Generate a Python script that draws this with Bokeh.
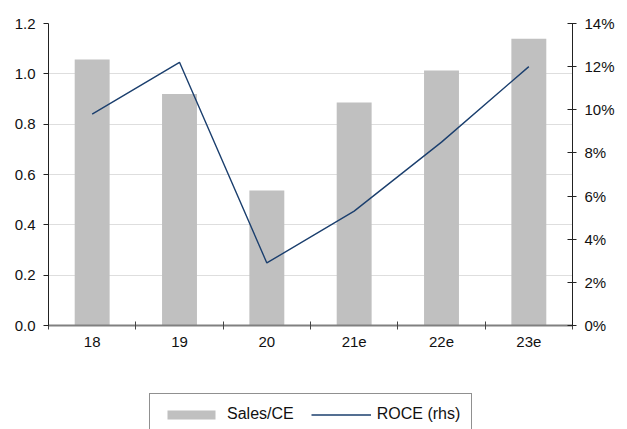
from bokeh.plotting import figure
from bokeh.layouts import column
from bokeh.models import (Range1d, LinearAxis, FixedTicker, PrintfTickFormatter,
                          Legend, LegendItem, ColumnDataSource)
from bokeh.embed import file_html
from bokeh.resources import INLINE

categories = ["18", "19", "20", "21e", "22e", "23e"]
sales_ce = [1.057, 0.92, 0.536, 0.886, 1.013, 1.139]
roce_pct = [9.8, 12.2, 2.9, 5.3, 8.5, 12.0]
left_ticks = [0.0, 0.2, 0.4, 0.6, 0.8, 1.0, 1.2]
right_ticks = [0, 2, 4, 6, 8, 10, 12, 14]
series_names = ["Sales/CE", "ROCE (rhs)"]

FONT = "Liberation Sans"
TXT = "#111111"
BAR = "#c0c0c0"
LINE = "#1b3f6e"

xpos = [i + 0.5 for i in range(len(categories))]
src = ColumnDataSource(dict(x=xpos, sales=sales_ce, roce=roce_pct, cat=categories))

BL, BR = 48, 55

p = figure(width=627, height=392, output_backend="svg", toolbar_location=None,
           x_range=Range1d(0, len(categories)), y_range=Range1d(0, 1.2),
           min_border_left=BL, min_border_right=BR, min_border_top=23,
           min_border_bottom=67, outline_line_color=None)
p.extra_y_ranges = {"roce": Range1d(0, 14)}

bars = p.vbar(x="x", top="sales", width=0.4, source=src, fill_color=BAR,
              line_color=None)
line = p.line(x="x", y="roce", source=src, y_range_name="roce",
              line_color=LINE, line_width=1.4)

# x axis
xa = p.xaxis[0]
xa.ticker = FixedTicker(ticks=xpos, minor_ticks=list(range(len(categories) + 1)))
xa.major_label_overrides = {x: c for x, c in zip(xpos, categories)}
xa.major_tick_line_color = None
xa.major_tick_out = 0
xa.major_tick_in = 0
xa.minor_tick_line_color = "#444444"
xa.minor_tick_in = 4
xa.minor_tick_out = 4
xa.minor_tick_line_width = 1
xa.axis_line_color = "#808080"
xa.axis_line_width = 2
xa.major_label_text_font = FONT
xa.major_label_text_font_size = "15px"
xa.major_label_text_color = TXT
xa.major_label_standoff = 7

# left axis
ya = p.yaxis[0]
ya.ticker = FixedTicker(ticks=left_ticks, minor_ticks=[])
ya.formatter = PrintfTickFormatter(format="%.1f")
ya.axis_line_color = "#222222"
ya.major_tick_line_color = "#222222"
ya.major_tick_in = 0
ya.major_tick_out = 5
ya.major_label_text_font = FONT
ya.major_label_text_font_size = "15px"
ya.major_label_text_color = TXT
ya.major_label_standoff = 8

# right axis
ra = LinearAxis(y_range_name="roce",
                ticker=FixedTicker(ticks=right_ticks, minor_ticks=[]),
                formatter=PrintfTickFormatter(format="%d%%"))
ra.axis_line_color = "#222222"
ra.major_tick_line_color = "#222222"
ra.major_tick_in = 5
ra.major_tick_out = 4
ra.major_label_text_font = FONT
ra.major_label_text_font_size = "15px"
ra.major_label_text_color = TXT
ra.major_label_standoff = 8
p.add_layout(ra, "right")

# grid
p.xgrid.grid_line_color = None
p.ygrid.ticker = FixedTicker(ticks=left_ticks)
p.ygrid.grid_line_color = "#bdbdbd"
p.ygrid.grid_line_dash = "1 1"
p.ygrid.grid_line_width = 1

# legend strip below the chart; its renderers use the same data and styles
# but lie outside the strip's visible range, so only the legend shows
lg = figure(width=627, height=37, output_backend="svg", toolbar_location=None,
            x_range=Range1d(0, len(categories)), y_range=Range1d(50, 51),
            x_axis_location=None, y_axis_location=None,
            min_border_left=BL, min_border_right=BR, min_border_top=0,
            min_border_bottom=0, outline_line_color=None)
lg.xgrid.visible = False
lg.ygrid.visible = False
lbar = lg.vbar(x="x", top="sales", width=0.4, source=src, fill_color=BAR,
               line_color=None)
lline = lg.line(x="x", y="roce", source=src, line_color=LINE, line_width=1.4)

legend = Legend(items=[LegendItem(label=series_names[0], renderers=[lbar]),
                       LegendItem(label=series_names[1], renderers=[lline])],
                orientation="horizontal", location=(101, -6),
                padding=11, margin=0, spacing=17,
                glyph_width=60, glyph_height=11, label_height=9,
                label_standoff=6, label_text_font=FONT,
                label_text_font_size="16px", label_text_color=TXT,
                border_line_color="#222222", border_line_width=1,
                background_fill_alpha=1)
lg.add_layout(legend, "center")

layout = column(p, lg, spacing=0)
open("out.html", "w").write(file_html(layout, INLINE))
